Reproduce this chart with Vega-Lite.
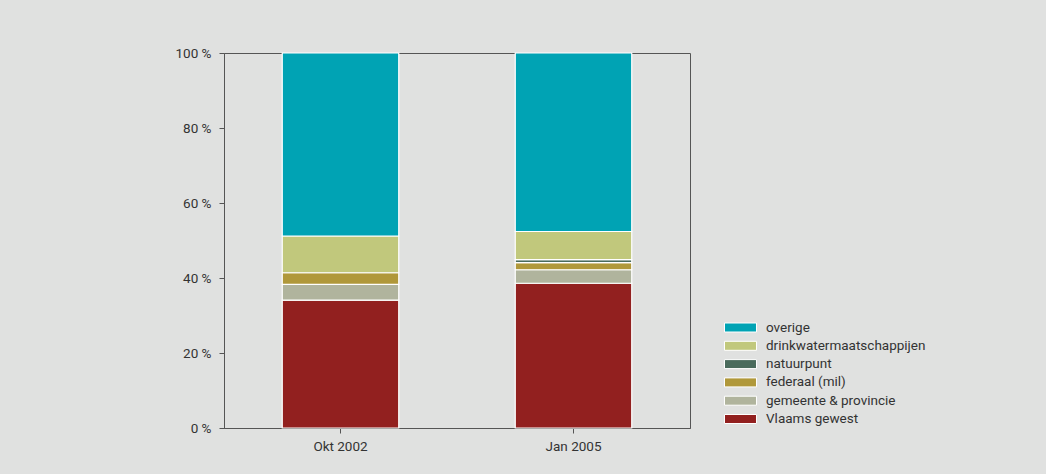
{
  "$schema": "https://vega.github.io/schema/vega-lite/v6.json",
  "width": 466,
  "height": 375,
  "autosize": {"type": "none"},
  "padding": {"left": 224, "top": 53, "right": 356, "bottom": 46},
  "background": "#e0e1e0",
  "data": {
    "values": [
      {"periode": "Okt 2002", "eigenaar": "Vlaams gewest", "rang": 1, "aandeel": 34.1},
      {"periode": "Okt 2002", "eigenaar": "gemeente & provincie", "rang": 2, "aandeel": 4.2},
      {"periode": "Okt 2002", "eigenaar": "federaal (mil)", "rang": 3, "aandeel": 3.1},
      {"periode": "Okt 2002", "eigenaar": "drinkwatermaatschappijen", "rang": 5, "aandeel": 9.8},
      {"periode": "Okt 2002", "eigenaar": "overige", "rang": 6, "aandeel": 48.8},
      {"periode": "Jan 2005", "eigenaar": "Vlaams gewest", "rang": 1, "aandeel": 38.6},
      {"periode": "Jan 2005", "eigenaar": "gemeente & provincie", "rang": 2, "aandeel": 3.6},
      {"periode": "Jan 2005", "eigenaar": "federaal (mil)", "rang": 3, "aandeel": 1.9},
      {"periode": "Jan 2005", "eigenaar": "natuurpunt", "rang": 4, "aandeel": 0.8},
      {"periode": "Jan 2005", "eigenaar": "drinkwatermaatschappijen", "rang": 5, "aandeel": 7.5},
      {"periode": "Jan 2005", "eigenaar": "overige", "rang": 6, "aandeel": 47.6}
    ]
  },
  "mark": {"type": "bar", "stroke": "white", "strokeWidth": 1.2},
  "encoding": {
    "x": {
      "field": "periode",
      "type": "nominal",
      "sort": ["Okt 2002", "Jan 2005"],
      "scale": {"paddingInner": 0.5, "paddingOuter": 0.25},
      "axis": {"title": null, "labelAngle": 0, "tickSize": 5, "labelPadding": 6}
    },
    "y": {
      "field": "aandeel",
      "type": "quantitative",
      "stack": "zero",
      "scale": {"domain": [0, 100], "nice": false},
      "axis": {
        "title": null,
        "values": [0, 20, 40, 60, 80, 100],
        "labelExpr": "datum.value + '  %'",
        "grid": false,
        "tickSize": 5,
        "labelPadding": 8
      }
    },
    "order": {"field": "rang", "type": "quantitative", "sort": "ascending"},
    "color": {
      "field": "eigenaar",
      "type": "nominal",
      "scale": {
        "domain": ["overige", "drinkwatermaatschappijen", "natuurpunt", "federaal (mil)", "gemeente & provincie", "Vlaams gewest"],
        "range": ["#00a3b4", "#c1c87c", "#4a6b5c", "#b0983a", "#b0b49d", "#92201f"]
      },
      "legend": {
        "title": null,
        "orient": "none",
        "legendX": 508.5,
        "legendY": 266.5,
        "padding": 0,
        "symbolType": "M-2.133,-0.6H2.133V0.6H-2.133Z",
        "symbolSize": 225,
        "symbolStrokeColor": "white",
        "symbolStrokeWidth": 1,
        "symbolOpacity": 1,
        "rowPadding": 3.3,
        "labelOffset": 17.5,
        "labelFontSize": 13.5,
        "labelFont": "Roboto",
        "labelColor": "#333333"
      }
    }
  },
  "config": {
    "view": {"stroke": "#555555", "strokeWidth": 1},
    "axis": {
      "domainColor": "#555555",
      "tickColor": "#555555",
      "labelFont": "Roboto",
      "labelFontSize": 13.5,
      "labelColor": "#333333"
    }
  }
}
